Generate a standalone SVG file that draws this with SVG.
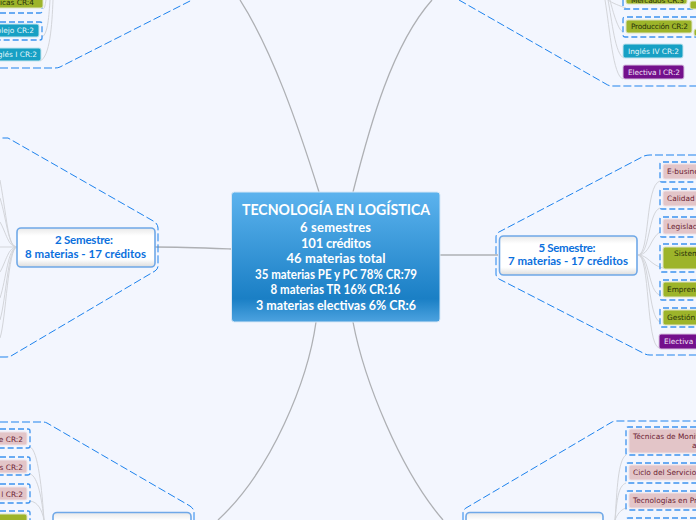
<svg xmlns="http://www.w3.org/2000/svg" width="696" height="520" viewBox="0 0 696 520">
<style>
.main{fill:none;stroke:#aeb0b4;stroke-width:1.3}
.sub{fill:none;stroke:#d3d5da;stroke-width:1}
.env{fill:none;stroke:#1e83ee;stroke-width:1;stroke-dasharray:8 3}
.dash{fill:none;stroke:#3d93ef;stroke-width:1.3;stroke-dasharray:6 3}
.sem{fill:url(#w);stroke:#6fa8e8;stroke-width:1.6}
.tt{font-family:"Lato","Noto Sans",sans-serif;font-weight:700;fill:#fff;text-anchor:middle}
.st{font-family:"Lato","Noto Sans",sans-serif;font-weight:700;font-size:11.5px;fill:#0b70dd;text-anchor:middle}
.lb{font-family:"DejaVu Sans",sans-serif;font-size:7.4px}
.pk{fill:#e3c5c8;stroke:#eee3e8;stroke-width:1}.pkt{fill:#6a2030}
.ol{fill:#9db42a;stroke:#dfe5c0;stroke-width:1}.olt{fill:#27300a}
.te{fill:#17a0c4;stroke:#c4e4ee;stroke-width:1}.tet{fill:#e4f6fb}
.pu{fill:#74108c;stroke:#d9c4e2;stroke-width:1}.put{fill:#f2e2f6}
</style>
<defs>
<linearGradient id="c" x1="0" y1="0" x2="0" y2="1"><stop offset="0" stop-color="#5cb3ee"/><stop offset=".82" stop-color="#1a7fc5"/><stop offset="1" stop-color="#4da3e0"/></linearGradient>
<linearGradient id="w" x1="0" y1="0" x2="0" y2="1"><stop offset="0" stop-color="#e9e9e9"/><stop offset=".2" stop-color="#fff"/><stop offset=".8" stop-color="#fff"/><stop offset="1" stop-color="#dcdcdc"/></linearGradient>
</defs>
<rect width="696" height="520" fill="#f3f6fe"/>
<g id="connectors">
<path class="main" d="M319 192C298 125 272 50 240 0"/>
<path class="main" d="M353 192C370 125 392 45 432 0"/>
<path class="main" d="M231 249C205 248 180 247 155 247"/>
<path class="main" d="M440 255H498"/>
<path class="main" d="M316 322C308 380 272 470 218 520"/>
<path class="main" d="M353 322C364 380 400 470 443 520"/>
<path class="sub" d="M17 247C8 247 8 225 0 180M17 247C8 247 7 220 0 198M17 247C8 247 6 232 0 222M17 247H0M17 247C8 247 6 262 0 272M17 247C8 247 6 280 0 298M17 247C8 247 6 300 0 320M17 247C8 247 6 320 0 338"/>
<path class="sub" d="M638 255C650 255 645 185 660 181M638 255C650 255 648 212 660 208M638 255C650 255 650 238 660 232M638 255C648 255 650 265 663 268M638 255C650 255 648 292 660 295M638 255C650 255 648 318 660 322M638 255C650 255 646 344 659 348"/>
<path class="sub" d="M53 0C52 25 50 57 40 61M50 0C49 15 48 34 42 37M46 0C45 5 45 8 43 9"/>
<path class="sub" d="M608 0C612 20 615 55 624 58M605 0C610 30 613 76 623 79M610 0C613 12 618 30 623 32M608 0C612 3 620 6 626 8"/>
<path class="sub" d="M44 520C42 490 38 450 30 447M44 520C42 500 38 476 30 474M44 520C42 510 38 502 30 501"/>
<path class="sub" d="M615 520C617 490 618 460 626 455M615 520C617 500 618 486 626 483M615 520C617 515 620 510 626 508"/>
</g>
<g id="group-1-semestre">
<path class="env" d="M0 68H55Q58 68 60 67L192 0"/>
<path class="dash" d="M0 13H40Q42 13 42 11V0"/>
<path class="dash" d="M0 22H40Q42 22 42 24V38Q42 40 40 40H0"/>
<rect class="ol" x="-40" y="-6" width="83" height="14" rx="2"/><text class="lb olt" x="34" y="5" text-anchor="end">ticas CR:4</text>
<rect class="te" x="-40" y="24" width="79" height="13" rx="2"/><text class="lb tet" x="34" y="33" text-anchor="end">plejo CR:2</text>
<rect class="te" x="-40" y="48" width="81" height="13" rx="2"/><text class="lb tet" x="37" y="57" text-anchor="end">glés I CR:2</text>
</g>
<g id="group-4-semestre">
<path class="env" d="M459 0L606 84Q609 86 612 86H696"/>
<path class="dash" d="M623 0V7Q623 9 625 9H696"/>
<path class="dash" d="M696 17H625Q623 17 623 19V35Q623 37 625 37H696"/>
<rect class="ol" x="626" y="-10" width="61" height="14" rx="2"/><text class="lb olt" x="631" y="3" textLength="53">Mercados CR:3</text>
<rect class="ol" x="690" y="1" width="10" height="8" rx="2"/>
<rect class="ol" x="626" y="20" width="66" height="13" rx="2"/><text class="lb olt" x="631" y="29" textLength="57">Producción CR:2</text>
<rect class="ol" x="694" y="29" width="6" height="7" rx="2"/>
<rect class="te" x="623" y="44" width="60" height="14" rx="2"/><text class="lb tet" x="628" y="54" textLength="51">Inglés IV CR:2</text>
<rect class="pu" x="623" y="65" width="61" height="14" rx="2"/><text class="lb put" x="628" y="75" textLength="52">Electiva I CR:2</text>
</g>
<g id="semestre-2">
<path class="env" d="M0 357H6Q9 357 11 356L155 271Q158 269 158 266V228Q158 225 155 222L8 138H0"/>
<rect class="sem" x="17" y="228" width="138" height="39" rx="4"/>
<text class="st" x="84" y="243.500" textLength="58">2 Semestre:</text><text class="st" x="85.500" y="257.500" textLength="121">8 materias - 17 créditos</text>
</g>
<g id="semestre-5">
<path class="env" d="M696 155H650Q647 155 644 156L499 232Q496 234 496 237V274Q496 277 499 279L645 354Q647 355 650 355H696"/>
<rect class="sem" x="499.500" y="236" width="137.500" height="39" rx="4"/>
<text class="st" x="567" y="252" textLength="57">5 Semestre:</text><text class="st" x="568" y="265" textLength="120">7 materias - 17 créditos</text>
<path class="dash" d="M696 162H662Q660 162 660 164V180Q660 182 662 182H696"/>
<path class="dash" d="M696 189H662Q660 189 660 191V207Q660 209 662 209H696"/>
<path class="dash" d="M696 217H662Q660 217 660 219V235Q660 237 662 237H696"/>
<path class="dash" d="M696 244H662Q660 244 660 246V270Q660 272 662 272H696"/>
<path class="dash" d="M696 280H662Q660 280 660 282V298Q660 300 662 300H696"/>
<path class="dash" d="M696 308H662Q660 308 660 310V325Q660 327 662 327H696"/>
<rect class="pk" x="663" y="164" width="40" height="15" rx="2"/><text class="lb pkt" x="667" y="174">E-business</text>
<rect class="pk" x="663" y="191" width="40" height="15" rx="2"/><text class="lb pkt" x="667" y="201">Calidad de</text>
<rect class="pk" x="663" y="219" width="40" height="15" rx="2"/><text class="lb pkt" x="667" y="229">Legislación</text>
<rect class="ol" x="663" y="247" width="40" height="22" rx="2"/><text class="lb olt" x="674" y="256">Sistemas</text>
<rect class="ol" x="663" y="282" width="40" height="15" rx="2"/><text class="lb olt" x="667" y="292">Emprendimiento</text>
<rect class="ol" x="663" y="310" width="40" height="15" rx="2"/><text class="lb olt" x="667" y="320">Gestión</text>
<rect class="pu" x="659" y="334" width="44" height="15" rx="2"/><text class="lb put" x="664" y="344">Electiva II</text>
</g>
<g id="semestre-3">
<path class="env" d="M0 422H43Q45 422 47 423L190 506Q194 509 194 512V520"/>
<path class="dash" d="M0 429H28Q30 429 30 431V446Q30 448 28 448H0"/>
<path class="dash" d="M0 457H28Q30 457 30 459V473Q30 475 28 475H0"/>
<path class="dash" d="M0 484H28Q30 484 30 486V501Q30 503 28 503H0"/>
<path class="dash" d="M0 511H28Q30 511 30 513V520"/>
<rect class="pk" x="-40" y="432" width="67" height="13" rx="2"/><text class="lb pkt" x="23" y="441.500" text-anchor="end">e CR:2</text>
<rect class="pk" x="-40" y="460" width="67" height="13" rx="2"/><text class="lb pkt" x="23" y="469.500" text-anchor="end">s CR:2</text>
<rect class="pk" x="-40" y="487" width="67" height="13" rx="2"/><text class="lb pkt" x="23" y="496.500" text-anchor="end">l CR:2</text>
<rect class="ol" x="-40" y="514" width="67" height="13" rx="2"/>
<rect class="sem" x="53" y="512.500" width="138" height="39" rx="4"/>
</g>
<g id="semestre-6">
<path class="env" d="M463 520V513Q463 510 466 508L612 422Q614 421 617 421H696"/>
<path class="dash" d="M696 427H628Q626 427 626 429V453Q626 455 628 455H696"/>
<path class="dash" d="M696 463H628Q626 463 626 465V481Q626 483 628 483H696"/>
<path class="dash" d="M696 491H628Q626 491 626 493V508Q626 510 628 510H696"/>
<path class="dash" d="M696 518H628Q626 518 626 520"/>
<rect class="pk" x="629" y="429" width="74" height="24" rx="2"/><text class="lb pkt" x="633" y="439">Técnicas de Monitoreo</text><text class="lb pkt" x="692" y="448">a</text>
<rect class="pk" x="629" y="465" width="74" height="15" rx="2"/><text class="lb pkt" x="633" y="475">Ciclo del Servicio</text>
<rect class="pk" x="629" y="493" width="74" height="15" rx="2"/><text class="lb pkt" x="633" y="503">Tecnologías en Procesos</text>
<rect class="sem" x="466" y="512.500" width="137" height="39" rx="4"/>
</g>
<g id="central">
<rect x="231.500" y="192" width="208.500" height="130" rx="3" fill="url(#c)" stroke="#d7e7f6" stroke-width="1"/>
<text class="tt" x="336" y="215" font-size="15" textLength="188" lengthAdjust="spacingAndGlyphs">TECNOLOGÍA EN LOGÍSTICA</text>
<text class="tt" x="335.500" y="232" font-size="13" textLength="71">6 semestres</text>
<text class="tt" x="336" y="247.500" font-size="13" textLength="70">101 créditos</text>
<text class="tt" x="336" y="262.500" font-size="13" textLength="99">46 materias total</text>
<text class="tt" x="336" y="279" font-size="13" textLength="162" lengthAdjust="spacingAndGlyphs">35 materias PE y PC 78% CR:79</text>
<text class="tt" x="335.500" y="293.500" font-size="13" textLength="130" lengthAdjust="spacingAndGlyphs">8 materias TR 16% CR:16</text>
<text class="tt" x="336" y="310" font-size="13" textLength="160" lengthAdjust="spacingAndGlyphs">3 materias electivas 6% CR:6</text>
</g>
</svg>
